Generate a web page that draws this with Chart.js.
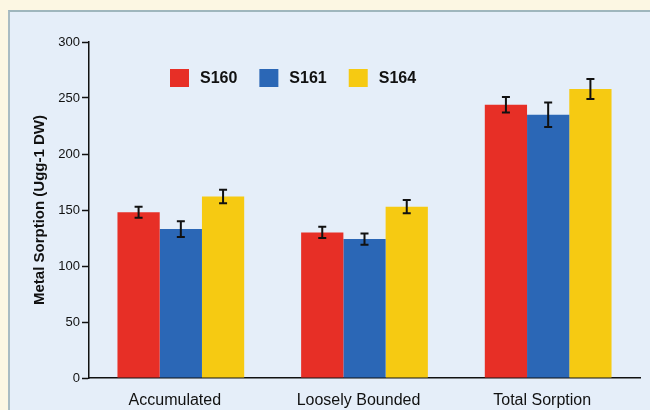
<!DOCTYPE html>
<html>
<head>
<meta charset="utf-8">
<script src="https://cdn.jsdelivr.net/npm/chart.js@4/dist/chart.umd.min.js"></script>
<style>
    html, body { margin: 0; padding: 0; }
    body { width: 650px; height: 410px; background: #fcf7e3; position: relative; overflow: hidden; }
    #panel {
        position: absolute; left: 8px; top: 10px; width: 660px; height: 420px;
        background: #e5eef9; border-top: 2px solid #9fb6bd; border-left: 2px solid #a9bcc3;
    }
    #wrap { position: absolute; left: 0; top: 0; width: 650px; height: 410px; }
</style>
</head>
<body>
<div id="panel"></div>
<div id="wrap"><canvas id="myChart" width="650" height="410"></canvas></div>
<script>
const categories = ["Accumulated", "Loosely Bounded", "Total Sorption"];
const series = ["S160", "S161", "S164"];
const colors = ["#e72f26", "#2b67b6", "#f6ca12"];

const s160 = [148, 130, 244];
const s161 = [133, 124, 235];
const s164 = [162, 153, 258];

// +/- spread of each bar
const s160Err = [5, 5, 7];
const s161Err = [7, 5, 11];
const s164Err = [6, 6, 9];

const yTicks = [0, 50, 100, 150, 200, 250, 300];

const values = [s160, s161, s164];
const errors = [s160Err, s161Err, s164Err];

const FONT = "'Liberation Sans', Arial, sans-serif";

const errorBars = {
    id: 'errorBars',
    afterDatasetsDraw(chart) {
        const ctx = chart.ctx;
        const y = chart.scales.y;
        ctx.save();
        ctx.strokeStyle = "#111";
        ctx.lineWidth = 2;
        chart.data.datasets.forEach((ds, i) => {
            const meta = chart.getDatasetMeta(i);
            meta.data.forEach((bar, j) => {
                let top = y.getPixelForValue(ds.data[j] + ds.err[j]);
                let bottom = y.getPixelForValue(ds.data[j] - ds.err[j]);
                ctx.beginPath();
                ctx.moveTo(bar.x, top);
                ctx.lineTo(bar.x, bottom);
                ctx.moveTo(bar.x - 4, top);
                ctx.lineTo(bar.x + 4, top);
                ctx.moveTo(bar.x - 4, bottom);
                ctx.lineTo(bar.x + 4, bottom);
                ctx.stroke();
            });
        });
        ctx.restore();
    }
};

// legend row sits inside the plot, above the first two groups
const insideLegend = {
    id: 'insideLegend',
    afterDraw(chart) {
        const ctx = chart.ctx;
        ctx.save();
        ctx.font = "bold 16px " + FONT;
        ctx.textBaseline = "middle";
        let x = 170;
        const cy = 78;
        chart.data.datasets.forEach(ds => {
            ctx.fillStyle = ds.backgroundColor;
            ctx.fillRect(x, cy - 9, 19, 18);
            ctx.fillStyle = "#111";
            ctx.fillText(ds.label, x + 30, cy + 1);
            x += 30 + ctx.measureText(ds.label).width + 22;
        });
        ctx.restore();
    }
};

const datasets = series.map((name, i) => ({
    label: name,
    data: values[i],
    err: errors[i],
    backgroundColor: colors[i],
    borderWidth: 0
}));

const ctx = document.querySelector("#myChart").getContext("2d");
new Chart(ctx, {
    type: 'bar',
    data: { labels: categories, datasets: datasets },
    plugins: [errorBars, insideLegend],
    options: {
        responsive: false,
        animation: false,
        layout: { padding: { top: 42, right: 10, left: 0, bottom: 0 } },
        plugins: { legend: { display: false }, tooltip: { enabled: false } },
        datasets: { bar: { barPercentage: 1, categoryPercentage: 0.69 } },
        scales: {
            y: {
                min: 0,
                max: 300,
                afterFit(scale) { scale.width = 89; },
                afterBuildTicks(scale) { scale.ticks = yTicks.map(v => ({ value: v })); },
                grid: { drawOnChartArea: false, tickLength: 7, tickColor: "#111", tickWidth: 1.5 },
                border: { color: "#111", width: 1.5 },
                ticks: {
                    color: "#111",
                    padding: 2,
                    font: { family: FONT, size: 13 }
                },
                title: {
                    display: true,
                    text: "Metal Sorption (Ugg-1 DW)",
                    color: "#111",
                    padding: { top: 31, bottom: 0 },
                    font: { family: FONT, size: 15, weight: "bold" }
                }
            },
            x: {
                afterFit(scale) { scale.height = 32; },
                grid: { display: false },
                border: { color: "#111", width: 1.5 },
                ticks: {
                    color: "#111",
                    padding: 5,
                    labelOffset: -6,
                    font: { family: FONT, size: 16 }
                }
            }
        }
    }
});
</script>
</body>
</html>
